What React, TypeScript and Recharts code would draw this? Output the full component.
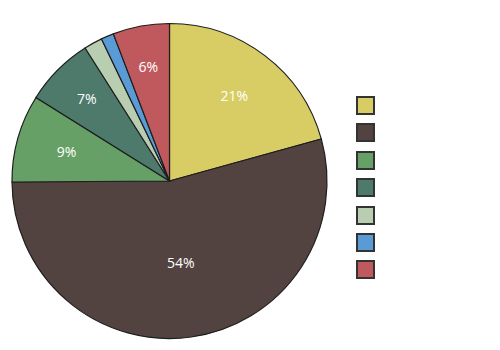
import React from "react";
import { PieChart, Pie, Cell, Legend } from "recharts";

const CATEGORIES = ["A", "B", "C", "D", "E", "F", "G"];
const VALUES = [20.7, 54.2, 9.0, 7.1, 1.9, 1.3, 5.8];
const COLORS = [
  "#D8CD64",
  "#534340",
  "#66A066",
  "#4E7A6B",
  "#B9CDB0",
  "#5B9BD5",
  "#C0595E",
];

const data = CATEGORIES.map((name, i) => ({ name, value: VALUES[i] }));

const RAD = Math.PI / 180;

/* eslint-disable @typescript-eslint/no-explicit-any */
function renderLabel({ cx, cy, midAngle, outerRadius, percent }: any) {
  if (percent < 0.03) return null;
  const f = percent > 0.5 ? 0.52 : percent < 0.08 ? 0.74 : 0.68;
  const r = outerRadius * f;
  const x = cx + r * Math.cos(-midAngle * RAD);
  const y = cy + r * Math.sin(-midAngle * RAD);
  return (
    <text
      x={x}
      y={y}
      fill="#FFFFFF"
      textAnchor="middle"
      dominantBaseline="central"
      fontSize={14}
      fontFamily="'Open Sans', sans-serif"
    >
      {Math.round(percent * 100) + "%"}
    </text>
  );
}

function SquareLegend() {
  return (
    <div>
      {COLORS.map((c, i) => (
        <div
          key={i}
          style={{
            width: 15,
            height: 15,
            background: c,
            border: "2px solid #333333",
            marginBottom: 8.4,
          }}
        />
      ))}
    </div>
  );
}
/* eslint-enable @typescript-eslint/no-explicit-any */

export default function App() {
  return (
    <div style={{ position: "fixed", left: 0, top: 0, background: "#fff" }}>
      <PieChart
        width={500}
        height={350}
        margin={{ top: 0, right: 0, bottom: 0, left: 0 }}
      >
        <Pie
          data={data}
          dataKey="value"
          nameKey="name"
          cx={169.5}
          cy={181}
          outerRadius={157.5}
          startAngle={90}
          endAngle={-270}
          stroke="#1E1E1E"
          strokeWidth={1.2}
          label={renderLabel}
          labelLine={false}
          isAnimationActive={false}
        >
          {data.map((_, i) => (
            <Cell key={i} fill={COLORS[i]} />
          ))}
        </Pie>
        <Legend
          content={<SquareLegend />}
          wrapperStyle={{ left: 356, top: 96, width: 20 }}
        />
      </PieChart>
    </div>
  );
}
